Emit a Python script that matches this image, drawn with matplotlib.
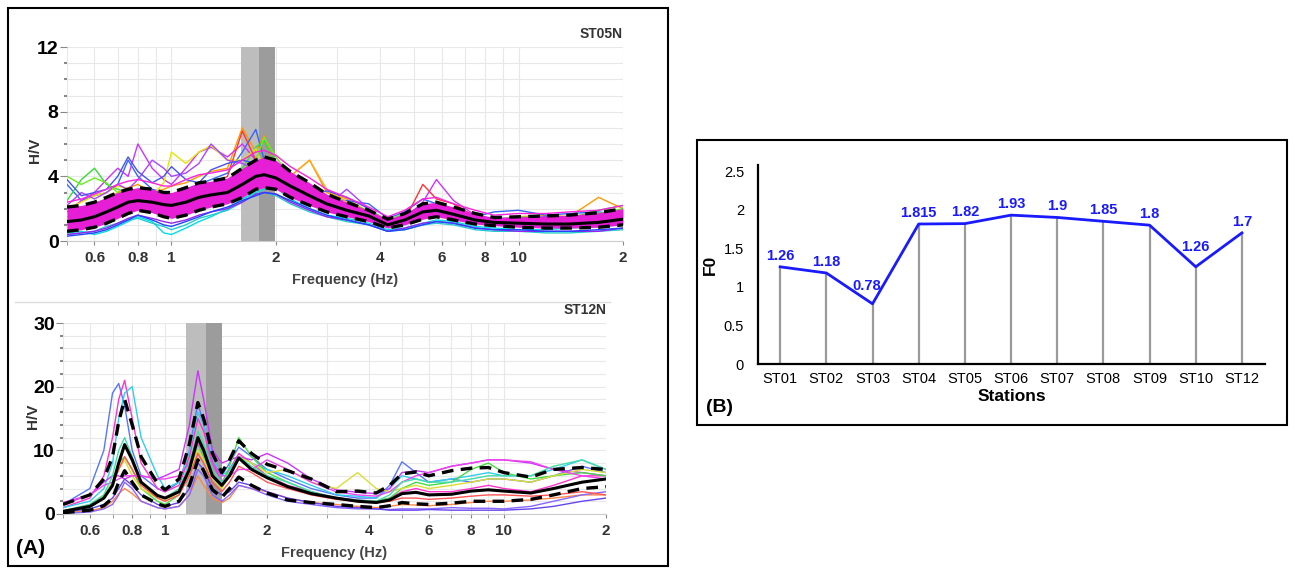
import numpy as np
import matplotlib
matplotlib.use("Agg")
import matplotlib.pyplot as plt
from matplotlib.patches import Rectangle
from matplotlib.lines import Line2D
from matplotlib.ticker import LogLocator, NullFormatter, FixedLocator, MultipleLocator

plt.rcParams['font.family'] = ['Liberation Sans', 'DejaVu Sans']

# ---- panel A, top: ST05N ----
f_top = [0.5, 0.55, 0.6, 0.65, 0.7, 0.75, 0.8, 0.88, 0.95, 1.0, 1.1, 1.2, 1.3, 1.45, 1.6, 1.75,
         1.85, 2.0, 2.2, 2.5, 2.8, 3.2, 3.7, 4.2, 4.7, 5.3, 5.8, 6.5, 7.5, 8.5, 10, 12, 14, 17, 20]
mean_top = [1.2, 1.3, 1.5, 1.8, 2.1, 2.4, 2.5, 2.4, 2.25, 2.2, 2.4, 2.7, 2.85, 3.0, 3.5, 4.0,
            4.1, 3.9, 3.4, 2.8, 2.3, 1.9, 1.55, 1.0, 1.3, 1.8, 1.9, 1.65, 1.3, 1.15, 1.1, 1.05, 1.05, 1.15, 1.35]
upper_top = [2.1, 2.2, 2.4, 2.7, 3.0, 3.2, 3.3, 3.2, 3.0, 3.0, 3.3, 3.6, 3.7, 3.9, 4.5, 5.0,
             5.2, 5.0, 4.3, 3.6, 2.9, 2.4, 1.9, 1.35, 1.7, 2.3, 2.4, 2.1, 1.7, 1.45, 1.5, 1.55, 1.6, 1.75, 2.0]
lower_top = [0.6, 0.7, 0.85, 1.1, 1.4, 1.7, 1.9, 1.75, 1.5, 1.4, 1.6, 1.9, 2.1, 2.3, 2.7, 3.2,
             3.3, 3.2, 2.7, 2.2, 1.8, 1.5, 1.2, 0.8, 1.0, 1.35, 1.5, 1.3, 1.05, 0.95, 0.85, 0.8, 0.8, 0.85, 1.0]
windows_top = {
    '#ff9900': [1.5, 2.0, 2.3, 2.6, 3.0, 3.3, 3.5, 3.0, 3.2, 3.4, 3.6, 4.0, 4.3, 4.5, 7.0, 5.5, 6.5, 4.5,
                4.0, 5.0, 3.0, 2.6, 1.8, 1.2, 1.6, 2.2, 2.0, 1.9, 1.4, 1.3, 1.5, 1.6, 1.5, 2.7, 2.0],
    '#3366ff': [3.5, 2.5, 2.8, 3.0, 3.5, 5.0, 4.0, 3.2, 3.0, 2.8, 3.2, 3.5, 3.8, 4.2, 5.5, 6.9, 5.0, 4.4,
                3.8, 3.0, 2.6, 2.5, 2.3, 1.4, 1.8, 2.6, 2.3, 2.0, 1.5, 1.8, 1.9, 1.6, 1.7, 1.8, 1.6],
    '#33dd33': [2.5, 3.8, 4.5, 3.5, 3.2, 3.0, 2.8, 2.5, 2.4, 2.3, 2.6, 2.9, 3.1, 3.4, 4.5, 5.8, 6.2, 4.8,
                4.0, 3.0, 2.6, 2.2, 1.8, 1.1, 1.5, 2.0, 2.2, 1.8, 1.3, 1.2, 1.4, 1.3, 1.4, 1.9, 2.2],
    '#cc33ff': [1.8, 2.5, 3.0, 3.8, 4.5, 4.0, 6.0, 4.5, 3.8, 3.5, 4.5, 5.5, 5.8, 5.2, 6.0, 5.0, 4.6, 4.2,
                3.6, 3.0, 2.5, 2.1, 1.7, 1.0, 1.4, 2.4, 3.8, 2.5, 1.6, 1.2, 1.2, 1.1, 1.2, 1.4, 1.7],
    '#00dde8': [0.5, 0.6, 0.4, 0.6, 0.9, 1.2, 1.5, 1.2, 0.5, 0.4, 0.8, 1.2, 1.5, 2.0, 2.6, 3.0, 3.2, 3.3,
                2.6, 2.0, 1.6, 1.4, 1.1, 0.7, 0.8, 1.1, 1.3, 1.2, 0.9, 0.8, 0.7, 0.7, 0.8, 0.9, 1.0],
    '#e6e600': [2.0, 2.4, 2.8, 3.0, 3.4, 3.2, 3.0, 2.8, 3.6, 5.5, 4.8, 5.5, 5.9, 5.0, 5.0, 5.7, 4.5, 4.0,
                3.5, 2.8, 2.4, 2.0, 1.6, 1.1, 1.5, 2.1, 2.0, 1.8, 1.4, 1.2, 1.2, 1.3, 1.3, 1.6, 1.8],
    '#ff3333': [1.0, 1.2, 1.6, 2.0, 2.5, 2.8, 3.0, 2.8, 2.6, 2.8, 3.0, 3.3, 3.4, 4.0, 6.8, 5.0, 4.5, 4.0,
                3.5, 2.6, 2.2, 1.9, 1.5, 0.9, 1.3, 3.5, 2.6, 2.3, 1.5, 1.2, 1.3, 1.2, 1.2, 1.4, 1.5],
    '#aa44ff': [2.2, 3.0, 2.6, 3.0, 3.5, 3.2, 3.8, 5.0, 4.5, 4.0, 4.2, 4.8, 6.0, 5.0, 4.8, 4.4, 4.2, 3.9,
                3.3, 2.6, 2.2, 3.2, 2.0, 1.0, 1.3, 1.8, 1.9, 1.7, 1.2, 1.0, 1.1, 1.0, 1.1, 1.2, 1.4],
    '#ffaa22': [1.3, 1.6, 1.9, 2.2, 2.6, 2.9, 3.0, 2.7, 2.5, 2.4, 2.6, 2.9, 3.1, 3.3, 3.8, 4.4, 4.6, 4.3,
                4.0, 5.0, 3.2, 2.4, 1.8, 1.1, 1.5, 2.0, 2.1, 1.8, 1.4, 1.2, 1.2, 1.1, 1.2, 1.3, 1.4],
    '#22cccc': [0.4, 0.5, 0.6, 0.9, 1.1, 1.3, 1.4, 1.1, 0.9, 0.7, 1.0, 1.4, 1.6, 1.9, 2.4, 2.9, 3.0, 2.8,
                2.3, 1.8, 1.5, 1.2, 1.0, 0.6, 0.7, 1.0, 1.1, 1.0, 0.7, 0.6, 0.6, 0.5, 0.5, 0.6, 0.7],
    '#4455ee': [3.8, 2.8, 3.0, 3.2, 4.0, 5.2, 4.3, 3.6, 4.0, 4.6, 3.8, 3.6, 4.4, 4.8, 5.0, 4.8, 4.5, 4.1,
                3.6, 2.8, 3.1, 2.7, 2.0, 1.2, 1.6, 2.2, 2.1, 1.9, 1.5, 1.4, 1.4, 1.5, 1.4, 1.6, 1.7],
    '#66ee22': [4.0, 3.5, 3.9, 3.6, 3.0, 2.9, 2.7, 2.6, 2.5, 2.5, 2.9, 3.2, 3.4, 3.6, 4.4, 5.0, 6.4, 5.2,
                4.0, 2.9, 2.7, 2.3, 1.9, 1.3, 1.7, 2.0, 1.9, 1.7, 1.3, 1.3, 1.5, 1.4, 1.5, 1.7, 2.0],
    '#ff22dd': [2.4, 2.6, 2.9, 3.2, 3.5, 3.7, 3.8, 3.6, 3.4, 3.4, 3.8, 4.1, 4.2, 4.4, 5.0, 5.5, 5.6, 5.3,
                4.6, 3.9, 3.2, 2.7, 2.1, 1.5, 1.9, 2.6, 2.7, 2.3, 1.9, 1.6, 1.7, 1.7, 1.8, 1.9, 2.2],
    '#9922ee': [0.4, 0.5, 0.6, 0.8, 1.1, 1.4, 1.6, 1.4, 1.2, 1.1, 1.3, 1.6, 1.8, 2.0, 2.4, 2.9, 3.0, 2.9,
                2.4, 1.9, 1.5, 1.3, 1.0, 0.6, 0.8, 1.1, 1.2, 1.1, 0.8, 0.7, 0.6, 0.6, 0.6, 0.6, 0.8],
    '#2244ff': [0.3, 0.4, 0.5, 0.7, 1.0, 1.3, 1.6, 1.3, 1.0, 0.9, 1.2, 1.5, 1.8, 2.1, 2.5, 2.8, 3.0, 2.9,
                2.5, 2.0, 1.6, 1.3, 1.0, 0.6, 0.7, 1.0, 1.2, 1.1, 0.8, 0.7, 0.7, 0.6, 0.6, 0.7, 0.8],
}
band_top = [1.585, 1.787, 1.99]

# ---- panel A, bottom: ST12N ----
f_bot = [0.5, 0.6, 0.66, 0.7, 0.73, 0.76, 0.8, 0.85, 0.95, 1.0, 1.1, 1.18, 1.25, 1.3, 1.38, 1.47,
         1.55, 1.65, 1.8, 2.0, 2.3, 2.7, 3.2, 3.7, 4.2, 4.6, 5.0, 5.5, 6, 7, 8, 9, 10, 12, 14, 17, 20]
mean_bot = [0.4, 1.2, 2.5, 4.5, 8.0, 10.9, 8.5, 5.0, 2.9, 2.5, 3.5, 7.0, 12.0, 10.0, 6.0, 4.5,
            6.0, 8.8, 7.0, 5.7, 4.3, 3.2, 2.5, 2.0, 1.8, 2.2, 3.2, 3.4, 3.0, 3.1, 3.6, 3.8, 3.6, 3.3, 4.0, 5.0, 5.5]
upper_bot = [1.5, 3.0, 5.5, 9.0, 14.5, 18.0, 14.0, 9.0, 4.8, 3.8, 5.5, 11.0, 17.5, 15.0, 9.5, 6.5,
             8.5, 11.5, 9.5, 7.8, 6.8, 5.5, 3.5, 3.6, 3.3, 4.5, 6.3, 6.6, 6.0, 6.8, 7.2, 7.3, 6.5, 5.8, 7.0, 7.3, 7.0]
lower_bot = [0.2, 0.6, 1.3, 2.5, 5.0, 6.8, 5.0, 3.0, 1.6, 1.2, 2.0, 4.5, 8.5, 6.8, 3.8, 2.6,
             4.0, 5.8, 4.5, 3.3, 2.2, 1.8, 1.5, 1.2, 1.0, 1.3, 1.8, 1.6, 1.5, 1.7, 2.0, 2.0, 2.0, 2.3, 3.0, 4.0, 4.3]
windows_bot = {
    '#5577ff': [1.5, 4, 10, 19, 20.5, 17, 10, 6, 4, 3.5, 5, 10, 17.5, 14, 8, 6, 8, 10.5, 9, 7, 5.5,
                4, 3, 2.5, 2.5, 4.5, 8.2, 6.5, 5, 5.5, 5, 5.5, 5.5, 5, 6, 7.5, 6.5],
    '#ff33cc': [1, 2.5, 6, 12, 18, 21, 15, 8, 4, 3.5, 4.5, 9, 15, 13, 8, 5, 7, 9.5, 8, 6, 4.5,
                3.5, 2.5, 2.2, 2, 2.5, 3.5, 4, 3.5, 3.5, 4, 4.5, 4, 3.5, 4.5, 6, 6],
    '#33ccee': [1, 2, 4, 8, 15, 19, 20, 12, 6, 4, 5, 10, 16, 14, 9, 6, 7, 9, 8, 7, 6,
                4.5, 3, 2.8, 2.5, 4, 6, 5.5, 5, 5.5, 6, 6.5, 6, 6, 7, 8.5, 7],
    '#cc33ff': [1.5, 3, 5, 6, 6, 5.5, 6, 6, 5.5, 6, 7, 14, 22.5, 18, 10, 8, 8.5, 9, 8.5, 9.5, 8,
                5.5, 3.8, 3.4, 3.2, 4.0, 6.5, 6.8, 6.5, 7.5, 8, 8.5, 8.5, 8, 7, 6.5, 6],
    '#ff8844': [0.2, 0.5, 1, 2, 3.2, 4, 3.2, 2, 1, 0.8, 1.2, 3, 6, 4.5, 2.5, 1.8, 2.5, 4.5, 4, 3.5, 2.5,
                1.8, 1.5, 1.2, 1, 1.2, 1.5, 1.4, 1.3, 1.5, 1.8, 2, 2, 2.2, 2.5, 3, 3],
    '#44dd44': [0.3, 1, 2.5, 5, 8, 9, 7, 4, 2, 1.5, 3, 7, 11, 9, 6, 4.5, 7.5, 12, 9, 6.5, 5,
                3.5, 2.5, 2, 2, 2.5, 4, 5, 4.5, 5, 7, 8, 6.5, 5.5, 6, 6.5, 6],
    '#dddd33': [0.5, 1.5, 3, 5, 7, 8.5, 6, 4, 2.5, 2, 3.5, 6.5, 10, 8.5, 5.5, 4, 6, 9, 8, 6.5, 7,
                5, 4, 6.5, 4, 3.5, 4, 4.5, 4, 4.5, 5, 5.5, 5.5, 5, 6, 7, 6.5],
    '#8866ff': [0.1, 0.3, 0.8, 1.5, 3, 5, 4, 2, 1, 0.8, 1.2, 3, 7, 6, 3, 2, 3, 4.5, 4, 3, 2,
                1.5, 1, 0.8, 0.8, 0.7, 0.8, 0.8, 0.8, 1, 0.9, 0.9, 0.8, 1.2, 2, 3, 3.5],
    '#ff5555': [0.5, 1.2, 2.5, 4.5, 7, 9, 7, 4.5, 2.5, 2, 3, 6, 9.5, 8, 5, 3.5, 5, 7.5, 6.5, 5, 4,
                3, 2.3, 2, 1.8, 2, 2.5, 2.5, 2.3, 2.5, 2.8, 3, 3, 2.8, 3, 3.5, 3],
    '#ee44ee': [1.8, 3, 4.5, 5, 5.5, 6, 6, 6, 5.5, 5.5, 6, 8, 11, 10, 8, 6, 6, 7, 7, 8.5, 7,
                5, 3.5, 3, 2.8, 3.5, 5, 6, 6.5, 7.5, 8, 8.5, 8.5, 8.2, 7, 6, 5.5],
    '#44ddaa': [0.5, 1.5, 3, 6, 10, 12, 9, 5, 3, 2.5, 4, 8, 13, 11, 7, 5, 6.5, 9, 7.5, 6, 5,
                3.5, 2.5, 2.2, 2, 3, 5, 5.5, 5, 5, 5.5, 6, 6, 6, 7.5, 8.5, 7],
    '#6644ee': [0.3, 0.8, 1.5, 2.5, 4, 5.5, 4.5, 3, 1.5, 1.2, 1.8, 4, 8, 7, 4, 3, 3.5, 5, 4.5, 3.5, 2.5,
                1.8, 1.2, 1, 0.8, 0.6, 0.6, 0.6, 0.7, 0.6, 0.6, 0.6, 0.6, 0.8, 1.2, 2, 2.5],
}
band_bot = [1.153, 1.32, 1.47]

freq_ticks = [0.6, 0.8, 1, 2, 4, 6, 8, 10, 20]
freq_labels = ['0.6', '0.8', '1', '2', '4', '6', '8', '10', '2']

# ---- panel B ----
stations = ['ST01', 'ST02', 'ST03', 'ST04', 'ST05', 'ST06', 'ST07', 'ST08', 'ST09', 'ST10', 'ST12']
f0 = [1.26, 1.18, 0.78, 1.815, 1.82, 1.93, 1.9, 1.85, 1.8, 1.26, 1.7]
f0_labels = ['1.26', '1.18', '0.78', '1.815', '1.82', '1.93', '1.9', '1.85', '1.8', '1.26', '1.7']

fig = plt.figure(figsize=(12.95, 5.74), dpi=100)

# outer boxes
fig.patches.append(Rectangle((8 / 1295, 1 - 566 / 574), 660 / 1295, 558 / 574, transform=fig.transFigure,
                             fill=False, ec='black', lw=1.5))
fig.patches.append(Rectangle((697 / 1295, 1 - 425 / 574), 590 / 1295, 285 / 574, transform=fig.transFigure,
                             fill=False, ec='black', lw=1.5))
fig.lines.append(Line2D([15 / 1295, 610 / 1295], [1 - 302 / 574] * 2, transform=fig.transFigure,
                        color='#dddddd', lw=1))


def hv_panel(ax, f, windows, lower, mean, upper, band, ymax, ymajor, yminor, fill=None):
    ax.set_xscale('log')
    ax.axvspan(band[0], band[1], color='#bdbdbd', zorder=1, lw=0)
    ax.axvspan(band[1], band[2], color='#9c9c9c', zorder=1, lw=0)
    if fill:
        ax.fill_between(f, lower, upper, color=fill, lw=0, zorder=2.5)
    for c, v in windows.items():
        ax.plot(f, v, color=c, lw=1.0, zorder=2)
    ax.plot(f, mean, color='black', lw=2.2, zorder=4)
    for b in (lower, upper):
        ax.plot(f, b, color='black', lw=2.4, dashes=(3.5, 2.2), zorder=4)
    ax.set_xlim(0.5, 20)
    ax.set_ylim(0, ymax)
    ax.xaxis.set_major_locator(FixedLocator(freq_ticks))
    ax.set_xticklabels(freq_labels)
    ax.xaxis.set_minor_locator(LogLocator(base=10, subs=np.arange(1, 10)))
    ax.xaxis.set_minor_formatter(NullFormatter())
    ax.yaxis.set_major_locator(MultipleLocator(ymajor))
    ax.yaxis.set_minor_locator(MultipleLocator(yminor))
    ax.grid(which='both', color='#e8e8e8', lw=0.8, zorder=0)
    ax.set_axisbelow(True)
    for s in ('top', 'right', 'left'):
        ax.spines[s].set_visible(False)
    ax.spines['bottom'].set_color('#cccccc')
    ax.tick_params(axis='x', which='both', length=3, color='#888888', labelsize=11, pad=4,
                   labelcolor='#333333')
    ax.tick_params(axis='y', which='major', length=5, color='#888888', labelsize=14, pad=1)
    ax.tick_params(axis='y', which='minor', length=2, width=1.5, color='#888888')
    for t in ax.get_xticklabels():
        t.set_fontweight('bold')
    for t in ax.get_yticklabels():
        t.set_fontweight('bold')
    ax.set_ylabel('H/V', fontsize=11, fontweight='bold', color='#333333')
    ax.set_xlabel('Frequency (Hz)', fontsize=10.5, fontweight='bold', color='#444444', labelpad=6)


ax1 = fig.add_axes([67 / 1295, 1 - 241 / 574, 556 / 1295, 194 / 574])
hv_panel(ax1, f_top, windows_top, lower_top, mean_top, upper_top, band_top, 12, 4, 1, fill='#e61fd6')
ax1.yaxis.set_label_coords(-0.045, 0.47)
ax1.text(1.0, 1.03, 'ST05N', transform=ax1.transAxes, ha='right', va='bottom',
         fontsize=10, fontweight='bold', color='#333333')

ax2 = fig.add_axes([63 / 1295, 1 - 514 / 574, 543 / 1295, 191 / 574])
hv_panel(ax2, f_bot, windows_bot, lower_bot, mean_bot, upper_bot, band_bot, 30, 10, 2)
ax2.yaxis.set_label_coords(-0.043, 0.51)
ax2.text(1.0, 1.03, 'ST12N', transform=ax2.transAxes, ha='right', va='bottom',
         fontsize=10, fontweight='bold', color='#333333')

fig.text(16 / 1295, 1 - 549 / 574, '(A)', fontsize=15, fontweight='bold', va='center', ha='left')

# panel B
ax3 = fig.add_axes([758 / 1295, 1 - 364 / 574, 507 / 1295, 199 / 574])
x = np.arange(len(stations))
ax3.vlines(x, 0, f0, color='#9a9a9a', lw=1.6, zorder=1)
ax3.plot(x, f0, color='#1a1aff', lw=2, zorder=3)
for i, (xi, yi, lab) in enumerate(zip(x, f0, f0_labels)):
    # the two V-shaped dips carry their labels a little higher
    dy, dx = (8, -4) if i == 2 else ((9, 0) if i == 9 else (3, 0))
    ax3.annotate(lab, (xi, yi), xytext=(dx, dy), textcoords='offset points', ha='center', va='bottom',
                 color='#1a1aff', fontsize=10.5, fontweight='bold')
ax3.set_xlim(-0.48, 10.5)
ax3.set_ylim(0, 2.58)
ax3.set_xticks(x)
ax3.set_xticklabels(stations)
ax3.set_yticks([0, 0.5, 1, 1.5, 2, 2.5])
ax3.set_yticklabels(['0', '0.5', '1', '1.5', '2', '2.5'])
ax3.tick_params(length=0, labelsize=10.5, pad=6)
ax3.tick_params(axis='y', pad=10)
for s in ('top', 'right'):
    ax3.spines[s].set_visible(False)
for s in ('left', 'bottom'):
    ax3.spines[s].set_linewidth(1.6)
ax3.set_xlabel('Stations', fontsize=12.5, fontweight='bold', labelpad=2)
ax3.set_ylabel('F0', fontsize=12.5, fontweight='bold')
ax3.yaxis.set_label_coords(-0.079, 0.5)
fig.text(706 / 1295, 1 - 408 / 574, '(B)', fontsize=14, fontweight='bold', va='center', ha='left')

fig.savefig('out.png', dpi=100)
